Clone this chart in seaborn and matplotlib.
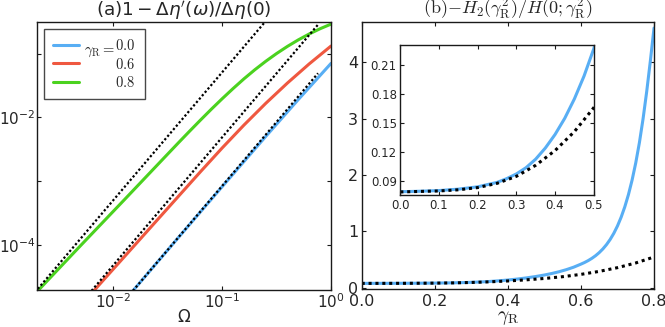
import matplotlib
matplotlib.use("Agg")
import matplotlib.pyplot as plt
from matplotlib.ticker import NullLocator
import seaborn as sns

# --- DATA ---
# (a) 1 - d eta'(omega)/d eta(0) against Omega, one curve per gamma_R
omega_00 = [0.01413, 0.0398, 0.1, 0.2512, 0.5012, 1.0]
eta_00 = [1.698e-5, 1.337e-4, 8.28e-4, 5.04e-3, 0.0191, 0.0700]
omega_06 = [0.00631, 0.01585, 0.0398, 0.0631, 0.1, 0.1585, 0.2512, 0.3981, 0.631, 1.0]
eta_06 = [1.778e-5, 1.023e-4, 5.89e-4, 1.413e-3, 3.334e-3, 7.60e-3, 0.0166, 0.03459, 0.06887, 0.1309]
omega_08 = [0.002, 0.005, 0.0126, 0.0316, 0.0398, 0.0501, 0.0631, 0.0794, 0.1, 0.1259,
            0.1585, 0.1995, 0.2512, 0.3162, 0.3981, 0.5012, 0.631, 0.7943, 1.0]
eta_08 = [1.905e-5, 9.91e-5, 5.15e-4, 2.68e-3, 4.05e-3, 6.08e-3, 9.08e-3, 0.01343, 0.01963, 0.02831,
          0.04018, 0.05572, 0.07551, 0.1, 0.1294, 0.1637, 0.2023, 0.2443, 0.2884]
# dotted small-Omega asymptotes (straight on log-log)
omega_asym = [0.0019, 0.76]
asym_00 = [3.07e-7, 0.0491]
asym_06 = [1.77e-6, 0.283]
asym_08 = [1.84e-5, 2.94]
legend_values = ["$0.0$", "$0.6$", "$0.8$"]
legend_prefix = r"$\gamma_{\rm R}=$"

# (b) -H2/H(0) against gamma_R
gamma_exact = [0, 0.05, 0.1, 0.15, 0.2, 0.25, 0.275, 0.3, 0.325, 0.35, 0.375, 0.4, 0.425, 0.45, 0.475,
               0.5, 0.52, 0.54, 0.56, 0.58, 0.6, 0.61, 0.62, 0.63, 0.64, 0.65, 0.66, 0.67, 0.68, 0.69,
               0.7, 0.71, 0.72, 0.73, 0.74, 0.75, 0.76, 0.77, 0.78, 0.79, 0.8]
h2_exact = [0.0785, 0.0790, 0.0797, 0.0812, 0.0836, 0.0882, 0.0921, 0.0970, 0.1035, 0.1124, 0.1240,
            0.1380, 0.1548, 0.1750, 0.1988, 0.227, 0.2536, 0.2849, 0.3219, 0.3657, 0.420, 0.4493,
            0.4834, 0.5231, 0.5695, 0.6244, 0.6894, 0.7664, 0.8581, 0.9675, 1.0975, 1.2523, 1.4362,
            1.6537, 1.9117, 2.2167, 2.5754, 2.9982, 3.4834, 4.0271, 4.6089]
gamma_approx = [0, 0.1, 0.15, 0.2, 0.25, 0.3, 0.35, 0.4, 0.45, 0.5, 0.55, 0.6, 0.65, 0.7, 0.75, 0.8]
h2_approx = [0.0783, 0.0793, 0.0805, 0.0828, 0.0872, 0.0945, 0.1060, 0.1213, 0.1410, 0.1658,
             0.1970, 0.2383, 0.2911, 0.3573, 0.4408, 0.5465]

# --- STYLE ---
sns.set_style("ticks")
plt.rcParams["font.family"] = ["DejaVu Sans"]
plt.rcParams["axes.linewidth"] = 1.0
plt.rcParams["axes.edgecolor"] = "#1a1a1a"

BLUE = "#58aef4"
RED = "#ef5840"
GREEN = "#4bd21f"
LW = 2.2
dots_a = dict(color="k", lw=1.6, linestyle=(0, (1, 1.0)))
dots_b = dict(color="k", lw=2.2, linestyle=(0, (1, 1.25)))


def style_ticks(ax, size, xpad, ypad):
    ax.tick_params(which="both", direction="in", top=True, right=True,
                   length=3, width=0.8, labelsize=size, color="#1a1a1a")
    ax.tick_params(axis="x", pad=xpad)
    ax.tick_params(axis="y", pad=ypad)


fig = plt.figure(figsize=(6.65, 3.27), dpi=100)

# --- (a) ---
ax1 = fig.add_axes([0.0561, 0.1131, 0.4416, 0.8187])
ax1.set_xscale("log")
ax1.set_yscale("log")
sns.lineplot(x=omega_00, y=eta_00, ax=ax1, color=BLUE, lw=LW, label=legend_values[0])
sns.lineplot(x=omega_06, y=eta_06, ax=ax1, color=RED, lw=LW, label=legend_values[1])
sns.lineplot(x=omega_08, y=eta_08, ax=ax1, color=GREEN, lw=LW, label=legend_values[2])
for a in (asym_00, asym_06, asym_08):
    sns.lineplot(x=omega_asym, y=a, ax=ax1, **dots_a)
ax1.set_xlim(0.002, 1.0)
ax1.set_ylim(2e-5, 0.308)
ax1.set_xticks([1e-2, 1e-1, 1e0], labels=[r"$10^{-2}$", r"$10^{-1}$", r"$10^{0}$"])
ax1.set_yticks([1e-4, 1e-3, 1e-2, 1e-1], labels=[r"$10^{-4}$", "", r"$10^{-2}$", ""])
ax1.xaxis.set_minor_locator(NullLocator())
ax1.yaxis.set_minor_locator(NullLocator())
style_ticks(ax1, 11, 1.5, 1.5)
ax1.set_xlabel(r"$\Omega$", fontsize=12, labelpad=-2)
ax1.set_title(r"(a)$1-\Delta\eta'(\omega)/\Delta\eta(0)$", fontsize=13.2, pad=3)
leg = ax1.legend(loc="upper left", fontsize=10.5, frameon=True, fancybox=False,
                 edgecolor="#1a1a1a", handlelength=1.75, handletextpad=2.5,
                 borderpad=0.65, labelspacing=0.22, borderaxespad=0.45)
leg.get_frame().set_linewidth(1.0)
for t in leg.get_texts():
    t.set_math_fontfamily("cm")
# "gamma_R =" placed just left of the first legend value, so the values line up
fig.canvas.draw()
bb = leg.get_texts()[0].get_window_extent()
W, H = fig.canvas.get_width_height()
fig.text(bb.x0 / W, bb.y0 / H, legend_prefix, ha="right", va="baseline",
         fontsize=10.5, math_fontfamily="cm")

# --- (b) ---
ax2 = fig.add_axes([0.5439, 0.1147, 0.4396, 0.8171])
sns.lineplot(x=gamma_exact, y=h2_exact, ax=ax2, color=BLUE, lw=LW)
sns.lineplot(x=gamma_approx, y=h2_approx, ax=ax2, **dots_b)
ax2.set_xlim(0, 0.8)
ax2.set_ylim(-0.03, 4.71)
ax2.set_xticks([0.0, 0.2, 0.4, 0.6, 0.8], labels=["0.0", "0.2", "0.4", "0.6", "0.8"])
ax2.set_yticks([0, 1, 2, 3, 4])
style_ticks(ax2, 11.5, 3.2, 2.5)
ax2.set_xlabel(r"$\gamma_{\rm R}$", fontsize=14, labelpad=-1, math_fontfamily="cm")
ax2.set_title(r"$\mathrm{(b)}{-H_2}(\gamma_{\rm R}^2)/H(0;\gamma_{\rm R}^2)$", fontsize=13, pad=0,
              math_fontfamily="cm")

# inset
ax3 = fig.add_axes([0.602, 0.4028, 0.2908, 0.4605])
sns.lineplot(x=gamma_exact, y=h2_exact, ax=ax3, color=BLUE, lw=LW)
sns.lineplot(x=gamma_approx, y=h2_approx, ax=ax3, **dots_b)
ax3.set_xlim(0, 0.5)
ax3.set_ylim(0.0748, 0.2314)
ax3.set_xticks([0.0, 0.1, 0.2, 0.3, 0.4, 0.5])
ax3.set_yticks([0.09, 0.12, 0.15, 0.18, 0.21], labels=["0.09", "0.12", "0.15", "0.18", "0.21"])
style_ticks(ax3, 8.5, 2.5, 2.5)

for ax in (ax1, ax2, ax3):
    ax.set_ylabel("")

fig.savefig("out.png", dpi=100)
